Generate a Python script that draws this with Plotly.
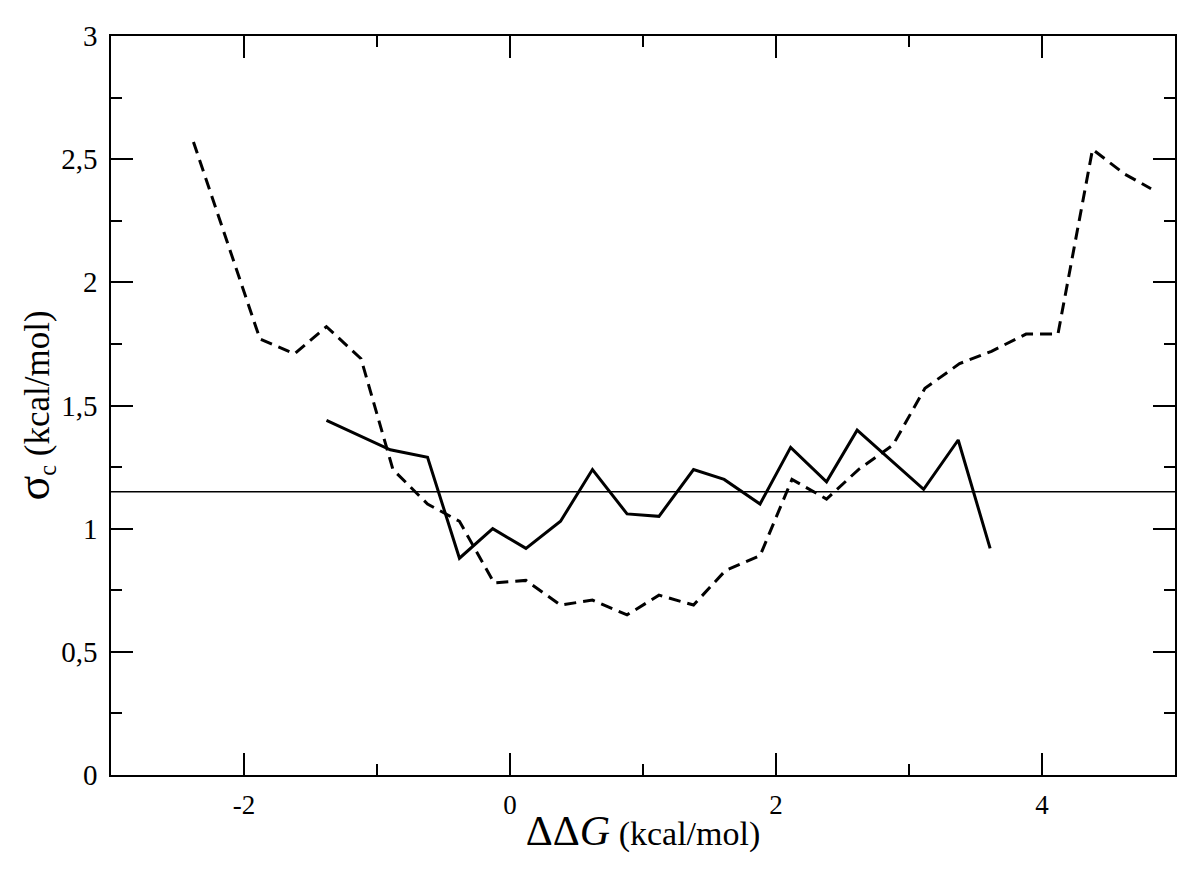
import plotly.graph_objects as go

# dashed curve
dash_x = [-2.38, -1.88, -1.62, -1.38, -1.12, -0.88, -0.62, -0.38, -0.12, 0.12,
          0.38, 0.62, 0.88, 1.12, 1.38, 1.62, 1.88, 2.12, 2.38, 2.62,
          2.88, 3.12, 3.38, 3.62, 3.88, 4.12, 4.38, 4.62, 4.82]
dash_y = [2.57, 1.77, 1.71, 1.82, 1.69, 1.24, 1.10, 1.03, 0.78, 0.79,
          0.69, 0.71, 0.65, 0.73, 0.69, 0.83, 0.89, 1.20, 1.12, 1.24,
          1.34, 1.57, 1.67, 1.72, 1.79, 1.79, 2.54, 2.44, 2.38]

# solid curve
solid_x = [-1.38, -0.90, -0.62, -0.38, -0.13, 0.12, 0.38, 0.62, 0.88, 1.12,
           1.38, 1.61, 1.88, 2.11, 2.38, 2.61, 3.11, 3.37, 3.61]
solid_y = [1.44, 1.32, 1.29, 0.88, 1.00, 0.92, 1.03, 1.24, 1.06, 1.05,
           1.24, 1.20, 1.10, 1.33, 1.19, 1.40, 1.16, 1.36, 0.92]

ref_level = 1.15

x_ticks = [-2, 0, 2, 4]
x_labels = ["-2", "0", "2", "4"]
y_ticks = [0, 0.5, 1, 1.5, 2, 2.5, 3]
y_labels = ["0", "0,5", "1", "1,5", "2", "2,5", "3"]

SERIF = "Liberation Serif"

fig = go.Figure()
fig.add_trace(go.Scatter(x=dash_x, y=dash_y, mode="lines",
                         line=dict(color="black", width=3, dash="12px,7px")))
fig.add_trace(go.Scatter(x=solid_x, y=solid_y, mode="lines",
                         line=dict(color="black", width=3)))
fig.add_hline(y=ref_level, line=dict(color="black", width=1.5))

axis_common = dict(
    showline=True, linecolor="black", linewidth=1.5, mirror="allticks",
    ticks="inside", ticklen=22, tickwidth=1.5, tickcolor="black",
    showgrid=False, zeroline=False,
)

fig.update_xaxes(
    range=[-3, 5], tickvals=x_ticks, ticktext=x_labels,
    tickfont=dict(family=SERIF, size=27, color="black"),
    minor=dict(ticks="inside", ticklen=11, tickwidth=1.5, tickcolor="black", dtick=1, tick0=0),
    title=dict(text="<span style='font-size:42px'>ΔΔ<i>G</i></span> (kcal/mol)",
               font=dict(family=SERIF, size=34, color="black"), standoff=2),
    ticklabelstandoff=5,
    **axis_common,
)
fig.update_yaxes(
    range=[0, 3], tickvals=y_ticks, ticktext=y_labels,
    tickfont=dict(family=SERIF, size=29, color="black"),
    minor=dict(ticks="inside", ticklen=11, tickwidth=1.5, tickcolor="black", dtick=0.25, tick0=0),
    title=dict(text="<span style='font-size:46px'>σ</span><sub>c</sub> (kcal/mol)",
               font=dict(family=SERIF, size=35, color="black"), standoff=10),
    ticklabelstandoff=6,
    **axis_common,
)

fig.update_layout(
    width=1184, height=857,
    margin=dict(l=103, r=17, t=23, b=90),
    font=dict(family=SERIF, color="black"),
    plot_bgcolor="white", paper_bgcolor="white",
    showlegend=False,
)

fig.write_html("out.html")
